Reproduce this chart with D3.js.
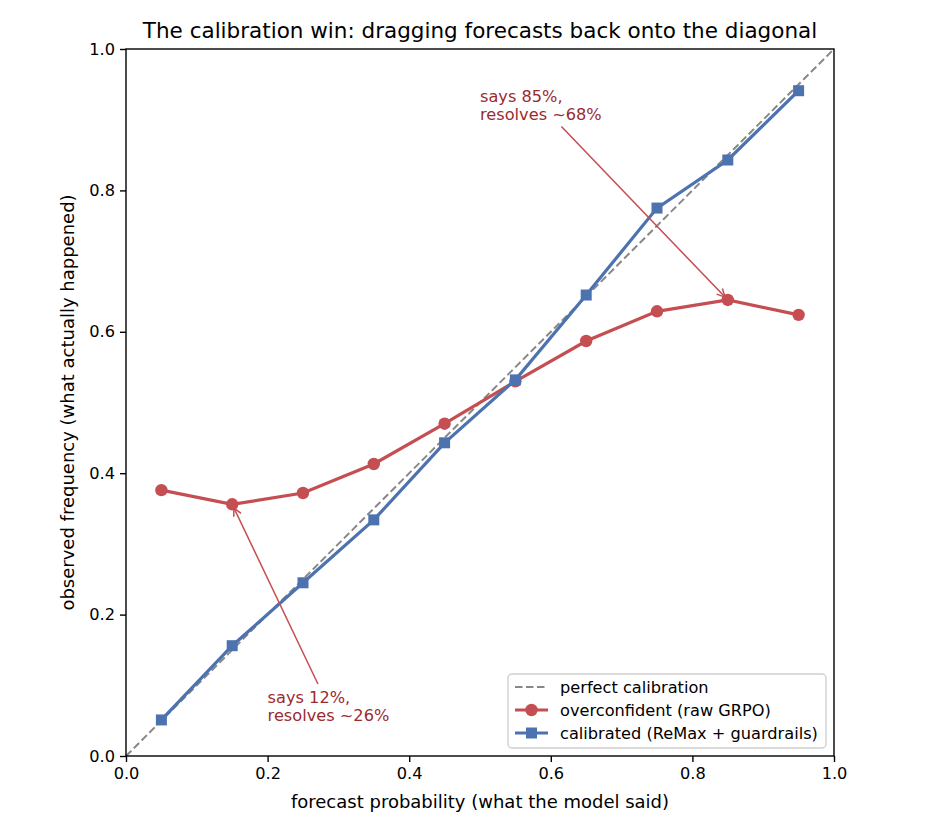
<!DOCTYPE html>
<html>
<head>
<meta charset="utf-8">
<script src="https://cdn.jsdelivr.net/npm/d3@7"></script>
<style>
  body { margin: 0; background: #fff; }
  text { font-family: "DejaVu Sans", sans-serif; }
</style>
</head>
<body>
<script>
// données
const bins = [0.05, 0.15, 0.25, 0.35, 0.45, 0.55, 0.65, 0.75, 0.85, 0.95];
const rawGrpo = [0.376, 0.356, 0.372, 0.413, 0.470, 0.530, 0.587, 0.629, 0.645, 0.624];
const calibrated = [0.051, 0.156, 0.245, 0.334, 0.443, 0.532, 0.652, 0.775, 0.843, 0.941];
const ticks = [0, 0.2, 0.4, 0.6, 0.8, 1.0];
const legendLabels = ["perfect calibration", "overconfident (raw GRPO)", "calibrated (ReMax + guardrails)"];

const width = 936, height = 832;
const margin = { left: 126, right: 102, top: 49, bottom: 76 };
const red = "#c44e52", blue = "#4c72b0", noteColor = "#9b2b2f";
const fs = 16.2;

const svg = d3.select("body").append("svg")
  .attr("width", width)
  .attr("height", height);

const x = d3.scaleLinear().domain([0, 1]).range([margin.left, width - margin.right]);
const y = d3.scaleLinear().domain([0, 1]).range([height - margin.bottom, margin.top]);

// axes
svg.append("g")
  .attr("transform", `translate(0,${y(0)})`)
  .call(d3.axisBottom(x).tickValues(ticks).tickFormat(d3.format(".1f")).tickSize(6).tickPadding(5))
  .call(g => g.selectAll("text").attr("font-size", fs).attr("fill", "#000"));
svg.append("g")
  .attr("transform", `translate(${x(0)},0)`)
  .call(d3.axisLeft(y).tickValues(ticks).tickFormat(d3.format(".1f")).tickSize(6).tickPadding(5))
  .call(g => g.selectAll("text").attr("font-size", fs).attr("fill", "#000"));
svg.selectAll(".domain").remove();
svg.selectAll(".tick line").attr("stroke", "#000").attr("stroke-width", 1.4);

const plot = svg.append("g");

// diagonale
plot.append("line")
  .attr("x1", x(0)).attr("y1", y(0)).attr("x2", x(1)).attr("y2", y(1))
  .attr("stroke", "#888").attr("stroke-width", 2).attr("stroke-dasharray", "7.5,3.5");

const line = d3.line().x((d, i) => x(bins[i])).y(d => y(d));

plot.append("path").datum(rawGrpo)
  .attr("d", line).attr("fill", "none").attr("stroke", red).attr("stroke-width", 3.2);
plot.selectAll(".dot").data(rawGrpo).join("circle")
  .attr("cx", (d, i) => x(bins[i])).attr("cy", d => y(d)).attr("r", 6.2).attr("fill", red);

plot.append("path").datum(calibrated)
  .attr("d", line).attr("fill", "none").attr("stroke", blue).attr("stroke-width", 3.2);
plot.selectAll(".sq").data(calibrated).join("rect")
  .attr("x", (d, i) => x(bins[i]) - 5.5).attr("y", d => y(d) - 5.5)
  .attr("width", 11).attr("height", 11).attr("fill", blue);

// cadre
svg.append("rect")
  .attr("x", x(0)).attr("y", y(1))
  .attr("width", x(1) - x(0)).attr("height", y(0) - y(1))
  .attr("fill", "none").attr("stroke", "#000").attr("stroke-width", 1.4);

// annotations
const notes = [
  { lines: ["says 85%,", "resolves ~68%"], at: [0.5, 0.90], target: [0.85, rawGrpo[8]] },
  { lines: ["says 12%,", "resolves ~26%"], at: [0.2, 0.05], target: [0.15, rawGrpo[1]] }
];
notes.forEach(n => {
  const t = svg.append("text")
    .attr("x", x(n.at[0])).attr("y", y(n.at[1]) - 18)
    .attr("font-size", fs).attr("fill", noteColor);
  n.lines.forEach((s, i) => t.append("tspan").attr("x", x(n.at[0])).attr("dy", i ? 18 : 0).text(s));
  const b = t.node().getBBox();
  const cx = b.x + b.width / 2, cy = b.y + b.height / 2;
  const tx = x(n.target[0]), ty = y(n.target[1]);
  const dx = tx - cx, dy = ty - cy;
  // sortie du cadre du texte
  const s = Math.min(Math.abs((b.width / 2) / dx), Math.abs((b.height / 2) / dy));
  const len = Math.hypot(dx, dy);
  const ux = dx / len, uy = dy / len;
  const x1 = cx + dx * s + ux * 4, y1 = cy + dy * s + uy * 4;
  const x2 = tx - ux * 4, y2 = ty - uy * 4;
  svg.append("line").attr("x1", x1).attr("y1", y1).attr("x2", x2).attr("y2", y2)
    .attr("stroke", red).attr("stroke-width", 1.5);
  const hl = 8, hw = 4;
  const px = -uy, py = ux;
  svg.append("path")
    .attr("d", `M${x2 - ux * hl + px * hw},${y2 - uy * hl + py * hw}L${x2},${y2}L${x2 - ux * hl - px * hw},${y2 - uy * hl - py * hw}`)
    .attr("fill", "none").attr("stroke", red).attr("stroke-width", 1.5);
});

// titres
svg.append("text").attr("x", (x(0) + x(1)) / 2).attr("y", 38)
  .attr("text-anchor", "middle").attr("font-size", 21.5)
  .text("The calibration win: dragging forecasts back onto the diagonal");
svg.append("text").attr("x", (x(0) + x(1)) / 2).attr("y", 808)
  .attr("text-anchor", "middle").attr("font-size", 18)
  .text("forecast probability (what the model said)");
svg.append("text")
  .attr("transform", `translate(74,${(y(0) + y(1)) / 2}) rotate(-90)`)
  .attr("text-anchor", "middle").attr("font-size", 18)
  .text("observed frequency (what actually happened)");

// légende
const leg = svg.append("g").attr("transform", "translate(508,674)");
leg.append("rect").attr("width", 318).attr("height", 74).attr("rx", 4)
  .attr("fill", "#fff").attr("fill-opacity", 0.8).attr("stroke", "#d0d0d0").attr("stroke-width", 1.4);
legendLabels.forEach((lab, i) => {
  const yy = 13 + i * 23;
  const col = i === 0 ? "#888" : (i === 1 ? red : blue);
  leg.append("line").attr("x1", 7).attr("x2", 40).attr("y1", yy).attr("y2", yy)
    .attr("stroke", col).attr("stroke-width", i === 0 ? 2 : 3.2)
    .attr("stroke-dasharray", i === 0 ? "7.5,3.5" : null);
  if (i === 1) leg.append("circle").attr("cx", 23.5).attr("cy", yy).attr("r", 6.2).attr("fill", red);
  if (i === 2) leg.append("rect").attr("x", 18).attr("y", yy - 5.5).attr("width", 11).attr("height", 11).attr("fill", blue);
  leg.append("text").attr("x", 52).attr("y", yy + 6).attr("font-size", fs).text(lab);
});
</script>
</body>
</html>
